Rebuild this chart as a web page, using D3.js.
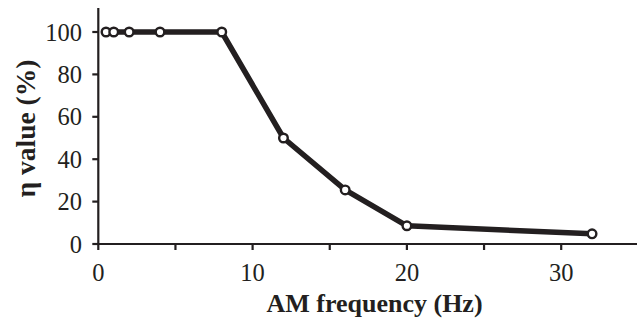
<!DOCTYPE html>
<html><head><meta charset="utf-8">
<script src="https://cdn.jsdelivr.net/npm/d3@7"></script>
<style>body{margin:0;background:#fff}svg{display:block}</style>
</head><body>
<svg id="c" width="637" height="321"></svg>
<script>
const freqs = [0.5, 1, 2, 4, 8, 12, 16, 20, 32];
const etaValues = [100, 100, 100, 100, 100, 50, 25.5, 8.6, 4.8];
const xTicks = [0, 10, 20, 30];
const xMinorTicks = [5, 15, 25];
const yTicks = [0, 20, 40, 60, 80, 100];
const xTitle = "AM frequency (Hz)";
const yTitle = "η value (%)";

const svg = d3.select("#c");
const font = "'Liberation Serif','Times New Roman',serif";
const x = d3.scaleLinear().domain([0, 10]).range([98.3, 252.6]);
const y = d3.scaleLinear().domain([0, 100]).range([244, 32]);
const axisColor = "#231f20";

// axis lines
svg.append("line").attr("x1", 95).attr("x2", 637).attr("y1", y(0)).attr("y2", y(0))
  .attr("stroke", axisColor).attr("stroke-width", 2.2);
svg.append("line").attr("x1", x(0)).attr("x2", x(0)).attr("y1", y(0) + 1).attr("y2", 8)
  .attr("stroke", axisColor).attr("stroke-width", 2.2);

// x ticks
const xAll = xTicks.concat(xMinorTicks);
svg.selectAll(".xt").data(xAll).enter().append("line")
  .attr("x1", d => x(d)).attr("x2", d => x(d)).attr("y1", y(0)).attr("y2", y(0) + 6)
  .attr("stroke", axisColor).attr("stroke-width", 2.2);
svg.selectAll(".xl").data(xTicks).enter().append("text")
  .attr("x", d => x(d)).attr("y", 281).attr("text-anchor", "middle")
  .attr("font-family", font).attr("font-size", 24.5).attr("fill", axisColor).text(d => d);

// y ticks
svg.selectAll(".yt").data(yTicks).enter().append("line")
  .attr("x1", x(0) - 6).attr("x2", x(0)).attr("y1", d => y(d)).attr("y2", d => y(d))
  .attr("stroke", axisColor).attr("stroke-width", 2.2);
svg.selectAll(".yl").data(yTicks).enter().append("text")
  .attr("x", 82).attr("y", d => y(d) + 8.5).attr("text-anchor", "end")
  .attr("font-family", font).attr("font-size", 24.5).attr("fill", axisColor).text(d => d);

// titles
svg.append("text").attr("x", 374.5).attr("y", 312).attr("text-anchor", "middle")
  .attr("font-family", font).attr("font-weight", "bold").attr("font-size", 26)
  .attr("fill", axisColor).text(xTitle);
svg.append("text").attr("transform", "translate(35,128.5) rotate(-90)").attr("text-anchor", "middle")
  .attr("font-family", font).attr("font-weight", "bold").attr("font-size", 27.5)
  .attr("fill", axisColor).text(yTitle);

// line
const data = freqs.map((f, i) => ({f, v: etaValues[i]}));
svg.append("path").datum(data)
  .attr("d", d3.line().x(d => x(d.f)).y(d => y(d.v)))
  .attr("fill", "none").attr("stroke", axisColor).attr("stroke-width", 5.5)
  .attr("stroke-linejoin", "round");
svg.selectAll(".pt").data(data).enter().append("circle")
  .attr("cx", d => x(d.f)).attr("cy", d => y(d.v)).attr("r", 4.3)
  .attr("fill", "#fff").attr("stroke", axisColor).attr("stroke-width", 2.4);
</script>
</body></html>
